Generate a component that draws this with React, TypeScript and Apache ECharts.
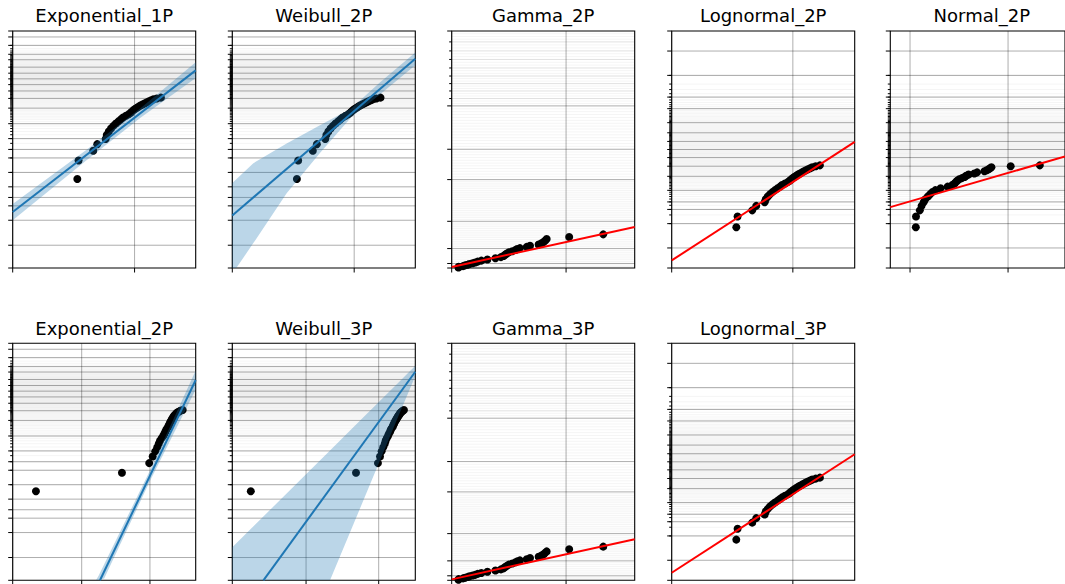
import React, { useEffect, useRef } from "react";
import * as echarts from "echarts";

// ---------- titles ----------
const titles = [
  "Exponential_1P", "Weibull_2P", "Gamma_2P", "Lognormal_2P", "Normal_2P",
  "Exponential_2P", "Weibull_3P", "Gamma_3P", "Lognormal_3P",
];

// ---------- data (30 failures) ----------
// plotting position (failure probability) of each failure
const failureProb = [
  0.0073, 0.0177, 0.0281, 0.0385, 0.049, 0.0594, 0.0698, 0.0802, 0.0906, 0.101,
  0.1115, 0.1219, 0.1323, 0.1427, 0.1531, 0.1635, 0.174, 0.1844, 0.1948, 0.2052,
  0.2156, 0.226, 0.2365, 0.2469, 0.2573, 0.2677, 0.2781, 0.2885, 0.299, 0.3094,
];
// x position (% of axis) on the log-time axes (Exponential_1P, Weibull_2P, Lognormal_2P/3P)
const xLogTime = [
  35.3, 36.0, 44.0, 46.2, 50.8, 51.4, 52.5, 53.7, 55.0, 56.4, 57.9, 59.2, 60.3, 61.9, 63.4,
  64.5, 65.2, 66.1, 67.0, 68.1, 69.0, 70.1, 71.2, 72.3, 73.4, 74.5, 75.7, 76.8, 78.7, 81.0,
];
// x position (% of axis) on the linear time axis of Normal_2P
const xLinearNormal = [
  14.6, 14.7, 16.9, 17.9, 19.1, 20.0, 21.5, 22.8, 24.0, 25.8, 28.8, 32.8, 35.5, 36.8, 37.5,
  38.3, 39.3, 41.0, 42.6, 43.4, 44.8, 48.1, 49.7, 53.9, 55.2, 56.3, 57.1, 57.9, 68.9, 85.6,
];
// x position (% of axis) on the linear time axis of Gamma_2P/3P
const xLinearGamma = [
  3.7, 3.8, 6.2, 7.3, 8.7, 9.7, 11.4, 12.8, 14.2, 16.2, 19.5, 23.9, 26.9, 28.4, 29.2,
  30.1, 31.2, 33.1, 34.9, 35.8, 37.3, 41.0, 42.8, 47.5, 48.9, 50.1, 51.0, 51.9, 64.2, 82.8,
];
// y position (% of axis) on the gamma probability paper
const yGammaPaper = [
  0.2, 0.5, 0.8, 1.1, 1.4, 1.7, 2.0, 2.3, 2.7, 3.1, 3.6, 4.1, 4.6, 5.1, 5.6,
  6.1, 6.6, 7.1, 7.6, 8.0, 8.4, 8.9, 9.4, 9.9, 10.4, 10.9, 11.5, 12.2, 13.1, 14.2,
];
// x position (% of axis) on the log(t - gamma) axes
const xExp2P = [
  12.7, 59.7, 74.6, 76.5, 77.9, 79.0, 79.8, 80.5, 81.4, 82.3, 82.9, 83.4, 83.9, 84.5, 85.0,
  85.4, 85.8, 86.1, 86.5, 86.9, 87.2, 87.6, 88.0, 88.3, 88.9, 89.4, 89.9, 90.7, 91.6, 92.9,
];
const xWeibull3P = [
  10.1, 67.6, 79.6, 80.7, 81.6, 82.5, 83.3, 83.8, 84.4, 85.1, 85.6, 86.2, 86.6, 87.1, 87.7,
  88.0, 88.4, 88.7, 89.1, 89.5, 89.8, 90.2, 90.5, 90.9, 91.3, 91.6, 92.0, 92.6, 93.1, 93.8,
];

// ---------- fitted lines ----------
const exp1pFit = [[0, 23.6], [100, 83.4]];
const weibull2pFit = [[0, 22.2], [100, 88.3]];
const gammaFit = [[0, 0.4], [100, 17.3]];
const lognormalFit = [[0, 3.2], [100, 53.2]];
const normal2pFit = [[0, 25.7], [100, 47.1]];
const exp2pFit = [[47.7, 0], [100, 84.5]];
const weibull3pFit = [[17.0, 0], [100, 88.0]];

// ---------- confidence bounds ----------
const exp1pBandX = [0, 40, 70, 100];
const exp1pBandUpper = [27.0, 49.7, 67.5, 86.8];
const exp1pBandLower = [20.2, 45.3, 63.5, 80.2];
const weibull2pBandX = [0, 2.2, 11.5, 29.7, 47.9, 65, 80, 100];
const weibull2pBandUpper = [35.9, 37.5, 44.2, 52.5, 60.2, 67.3, 77.8, 90.9];
const weibull2pBandLower = [0, 0, 10.5, 31.5, 48.5, 63.6, 72.8, 85.5];
const exp2pBandX = [45.5, 47.0, 50, 75, 100];
const exp2pBandUpper = [0, 2.0, 6.8, 46.3, 88.5];
const exp2pBandLower = [0, 0, 0.8, 41.9, 80.5];
const weibull3pBandX = [0, 53.4, 70, 90, 100];
const weibull3pBandUpper = [13.9, 54.8, 67.5, 82.8, 90.5];
const weibull3pBandLower = [0, 0, 30.7, 67.8, 86.2];

// ---------- axis grid definitions ----------
const weibullMajorF = [0.0003, 0.001, 0.002, 0.003, 0.005, 0.01, 0.02, 0.03, 0.05, 0.1, 0.2, 0.3, 0.4, 0.5, 0.6, 0.7, 0.8, 0.9, 0.95, 0.99, 0.999];
const normalMajorF = [0.001, 0.01, 0.03, 0.05, 0.1, 0.2, 0.3, 0.4, 0.5, 0.6, 0.7, 0.8, 0.9, 0.95, 0.99, 0.999];
const gammaMajorPct = [1.9, 8.2, 19.7, 37.3, 50.1, 68.4];
const gammaMediumPct = [71.5, 74.7, 77.8, 81.0, 84.4, 88.0, 91.6, 95.4];
const vGridLog = [0, 66.6];
const vGridLognormal = [0, 66.2];
const vGridNormal = [11.3, 67.4];
const vGridGamma = [0, 62.5];
const vGridExp2P = [0, 37.7, 75.0];
const vGridWeibull3P = [0, 40.3, 80.0];

// ---------- probability paper transforms ----------
function normInv(p: number): number {
  const a = [-3.969683028665376e1, 2.209460984245205e2, -2.759285104469687e2, 1.38357751867269e2, -3.066479806614716e1, 2.506628277459239];
  const b = [-5.447609879822406e1, 1.615858368580409e2, -1.556989798598866e2, 6.680131188771972e1, -1.328068155288572e1];
  const c = [-7.784894002430293e-3, -3.223964580411365e-1, -2.400758277161838, -2.549732539343734, 4.374664141464968, 2.938163982698783];
  const d = [7.784695709041462e-3, 3.224671290700398e-1, 2.445134137142996, 3.754408661907416];
  const pl = 0.02425;
  if (p < pl) {
    const q = Math.sqrt(-2 * Math.log(p));
    return (((((c[0] * q + c[1]) * q + c[2]) * q + c[3]) * q + c[4]) * q + c[5]) / ((((d[0] * q + d[1]) * q + d[2]) * q + d[3]) * q + 1);
  }
  if (p <= 1 - pl) {
    const q = p - 0.5, r = q * q;
    return ((((((a[0] * r + a[1]) * r + a[2]) * r + a[3]) * r + a[4]) * r + a[5]) * q) / (((((b[0] * r + b[1]) * r + b[2]) * r + b[3]) * r + b[4]) * r + 1);
  }
  const q = Math.sqrt(-2 * Math.log(1 - p));
  return -(((((c[0] * q + c[1]) * q + c[2]) * q + c[3]) * q + c[4]) * q + c[5]) / ((((d[0] * q + d[1]) * q + d[2]) * q + d[3]) * q + 1);
}
const P_LO = 0.0001, P_HI = 0.9999;
const wT = (F: number) => Math.log(-Math.log(1 - F));
const W_LO = wT(P_LO), W_HI = wT(P_HI);
const Z_LO = normInv(P_LO), Z_HI = normInv(P_HI);
const weibullPct = (F: number) => ((wT(F) - W_LO) / (W_HI - W_LO)) * 100;
const normalPct = (F: number) => ((normInv(F) - Z_LO) / (Z_HI - Z_LO)) * 100;

const minorF: number[] = [];
for (let k = 1; k <= 99; k++) minorF.push(k / 100);

const weibullGrid = { major: weibullMajorF.map(weibullPct), minor: minorF.map(weibullPct), medium: [] as number[] };
const normalGrid = { major: normalMajorF.map(normalPct), minor: minorF.map(normalPct), medium: [] as number[] };
const gammaMinor: number[] = [];
{
  const stops = [0, ...gammaMajorPct, ...gammaMediumPct, 100].sort((p, q) => p - q);
  for (let k = 0; k < stops.length - 1; k++) {
    const lo = stops[k], hi = stops[k + 1];
    const step = lo < 20 ? 0.75 : 1.2;
    const n = Math.max(1, Math.round((hi - lo) / step));
    for (let j = 1; j < n; j++) gammaMinor.push(lo + ((hi - lo) * j) / n);
  }
}
const gammaGrid = { major: gammaMajorPct, minor: gammaMinor, medium: gammaMediumPct };

// ---------- layout / style ----------
const COL_LEFT = [12.7, 232.3, 451.7, 671.7, 890.3];
const ROW_TOP = [31, 343.3];
const TITLE_Y = [15, 328];
const PLOT_W = 183;
const PLOT_H = 237;
const BLUE = "#1f77b4";
const RED = "#ff0000";
const FONT = "DejaVu Sans";

type Band = { x: number[]; upper: number[]; lower: number[] };
type Panel = {
  title: string; row: number; col: number; xs: number[]; ys: number[];
  grid: { major: number[]; minor: number[]; medium: number[] };
  vLines: number[]; fit: number[][]; fitColor: string; band?: Band;
};

const yWeibull = failureProb.map(weibullPct);
const yNormal = failureProb.map(normalPct);

const panels: Panel[] = [
  { title: titles[0], row: 0, col: 0, xs: xLogTime, ys: yWeibull, grid: weibullGrid, vLines: vGridLog, fit: exp1pFit, fitColor: BLUE, band: { x: exp1pBandX, upper: exp1pBandUpper, lower: exp1pBandLower } },
  { title: titles[1], row: 0, col: 1, xs: xLogTime, ys: yWeibull, grid: weibullGrid, vLines: vGridLog, fit: weibull2pFit, fitColor: BLUE, band: { x: weibull2pBandX, upper: weibull2pBandUpper, lower: weibull2pBandLower } },
  { title: titles[2], row: 0, col: 2, xs: xLinearGamma, ys: yGammaPaper, grid: gammaGrid, vLines: vGridGamma, fit: gammaFit, fitColor: RED },
  { title: titles[3], row: 0, col: 3, xs: xLogTime, ys: yNormal, grid: normalGrid, vLines: vGridLognormal, fit: lognormalFit, fitColor: RED },
  { title: titles[4], row: 0, col: 4, xs: xLinearNormal, ys: yNormal, grid: normalGrid, vLines: vGridNormal, fit: normal2pFit, fitColor: RED },
  { title: titles[5], row: 1, col: 0, xs: xExp2P, ys: yWeibull, grid: weibullGrid, vLines: vGridExp2P, fit: exp2pFit, fitColor: BLUE, band: { x: exp2pBandX, upper: exp2pBandUpper, lower: exp2pBandLower } },
  { title: titles[6], row: 1, col: 1, xs: xWeibull3P, ys: yWeibull, grid: weibullGrid, vLines: vGridWeibull3P, fit: weibull3pFit, fitColor: BLUE, band: { x: weibull3pBandX, upper: weibull3pBandUpper, lower: weibull3pBandLower } },
  { title: titles[7], row: 1, col: 2, xs: xLinearGamma, ys: yGammaPaper, grid: gammaGrid, vLines: vGridGamma, fit: gammaFit, fitColor: RED },
  { title: titles[8], row: 1, col: 3, xs: xLogTime, ys: yNormal, grid: normalGrid, vLines: vGridLognormal, fit: lognormalFit, fitColor: RED },
];

function buildOption() {
  const grids: any[] = [];
  const xAxes: any[] = [];
  const yAxes: any[] = [];
  const series: any[] = [];
  const graphics: any[] = [];

  panels.forEach((p, i) => {
    const left = COL_LEFT[p.col];
    const top = ROW_TOP[p.row];
    grids.push({ left, top, width: PLOT_W, height: PLOT_H, show: false, containLabel: false });
    const axisBase = {
      type: "value", min: 0, max: 100, gridIndex: i,
      axisLine: { show: false }, axisTick: { show: false }, axisLabel: { show: false }, splitLine: { show: false },
    };
    xAxes.push({ ...axisBase });
    yAxes.push({ ...axisBase });

    // grid lines, ticks and frame
    series.push({
      type: "custom", xAxisIndex: i, yAxisIndex: i, silent: true, z: 1, clip: false,
      data: [[0, 0]],
      renderItem: (params: any, api: any) => {
        const cs = params.coordSys;
        const L = cs.x, R = cs.x + cs.width, T = cs.y, B = cs.y + cs.height;
        const ch: any[] = [];
        const hline = (v: number, stroke: string, tick: number) => {
          const y = api.coord([0, v])[1];
          ch.push({ type: "line", shape: { x1: L, y1: y, x2: R, y2: y }, style: { stroke, lineWidth: 1 } });
          if (tick > 0) ch.push({ type: "line", shape: { x1: L - tick, y1: y, x2: L, y2: y }, style: { stroke: "#000", lineWidth: 1 } });
        };
        p.grid.minor.forEach((v) => hline(v, "rgba(0,0,0,0.045)", p.grid.medium.length ? 0 : 2.5));
        p.grid.medium.forEach((v) => hline(v, "rgba(0,0,0,0.12)", 2.5));
        p.grid.major.forEach((v) => hline(v, "rgba(0,0,0,0.32)", 4.5));
        hline(0, "rgba(0,0,0,0)", 4.5);
        hline(100, "rgba(0,0,0,0)", 4.5);
        p.vLines.forEach((v) => {
          const x = api.coord([v, 0])[0];
          ch.push({ type: "line", shape: { x1: x, y1: T, x2: x, y2: B }, style: { stroke: "rgba(0,0,0,0.32)", lineWidth: 1 } });
          ch.push({ type: "line", shape: { x1: x, y1: B, x2: x, y2: B + 4.5 }, style: { stroke: "#000", lineWidth: 1 } });
        });
        ch.push({ type: "rect", shape: { x: L, y: T, width: R - L, height: B - T }, style: { fill: "none", stroke: "#000", lineWidth: 1.1 } });
        return { type: "group", children: ch };
      },
    });

    // failure points
    series.push({
      type: "scatter", xAxisIndex: i, yAxisIndex: i, z: 3, silent: true,
      symbol: "circle", symbolSize: 8,
      itemStyle: { color: "#000", opacity: 1 },
      data: p.xs.map((x, k) => [x, p.ys[k]]),
    });

    // confidence band
    if (p.band) {
      const band = p.band;
      series.push({
        type: "custom", xAxisIndex: i, yAxisIndex: i, silent: true, z: 4, clip: true,
        data: [[band.x[0], band.lower[0]]],
        renderItem: (_params: any, api: any) => {
          const pts: number[][] = [];
          band.x.forEach((x, k) => pts.push(api.coord([x, band.upper[k]])));
          for (let k = band.x.length - 1; k >= 0; k--) pts.push(api.coord([band.x[k], band.lower[k]]));
          return { type: "polygon", shape: { points: pts }, style: { fill: "rgba(31,119,180,0.3)", stroke: "none" } };
        },
      });
    }

    // fitted line
    series.push({
      type: "line", xAxisIndex: i, yAxisIndex: i, z: 5, silent: true,
      showSymbol: false, symbol: "none",
      lineStyle: { color: p.fitColor, width: 2 },
      data: p.fit,
    });

    graphics.push({
      type: "text", x: left + PLOT_W / 2, y: TITLE_Y[p.row],
      style: { text: p.title, fontSize: 18, fontFamily: FONT, fill: "#000", textAlign: "center", textVerticalAlign: "middle" },
    });
  });

  return {
    animation: false,
    backgroundColor: "#ffffff",
    grid: grids,
    xAxis: xAxes,
    yAxis: yAxes,
    series,
    graphic: graphics,
  };
}

export default function App() {
  const ref = useRef<HTMLDivElement>(null);
  useEffect(() => {
    const chart = echarts.init(ref.current!, null, { renderer: "svg" });
    chart.setOption(buildOption() as any);
    return () => chart.dispose();
  }, []);
  return (
    <div
      ref={ref}
      style={{ position: "fixed", left: 0, top: 0, width: 1065, height: 584, background: "#fff" }}
    />
  );
}
